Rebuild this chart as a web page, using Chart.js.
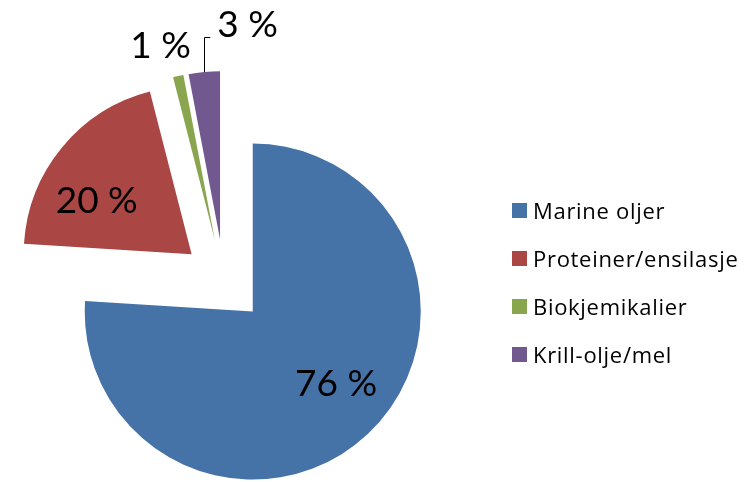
<!DOCTYPE html>
<html>
<head>
<meta charset="utf-8">
<script src="https://cdn.jsdelivr.net/npm/chart.js@4"></script>
<style>
  html, body { margin: 0; padding: 0; background: #fff; }
  #wrap { position: relative; width: 756px; height: 482px; }
  #pie { position: absolute; left: 0; top: 0; }
  #legend { position: absolute; left: 512px; top: 186px; font-family: "Open Sans", sans-serif; font-size: 22px; letter-spacing: 0.7px; color: #000; }
  .row { height: 48px; display: flex; align-items: center; }
  .box { width: 15px; height: 15px; margin-right: 6px; }
</style>
</head>
<body>
<div id="wrap">
  <canvas id="pie" width="756" height="482"></canvas>
  <div id="legend"></div>
</div>
<script>
// data
const categories = ['Marine oljer', 'Proteiner/ensilasje', 'Biokjemikalier', 'Krill-olje/mel'];
const shares = [76, 20, 1, 3];
const colors = ['#4572A7', '#AA4643', '#89A54E', '#71588F'];

const EXPLODE = 42;

// every slice pulled out from the centre by the same distance
const explodeAll = {
  id: 'explodeAll',
  beforeDatasetDraw(chart, args) {
    const ctx = chart.ctx;
    args.meta.data.forEach(arc => {
      const mid = (arc.startAngle + arc.endAngle) / 2;
      ctx.save();
      ctx.translate(Math.cos(mid) * EXPLODE, Math.sin(mid) * EXPLODE);
      arc.draw(ctx);
      ctx.restore();
    });
    return false;
  }
};

// label placement: fraction of radius (or extra px outside), and a small angle shift
const labelPos = [
  {inside: true, r: 0.655, rot: -6},
  {inside: true, r: 0.65, rot: -10},
  {inside: false, r: 34, rot: -3},
  {inside: false, r: 49, rot: 12.7, leader: true}
];

const pctLabels = {
  id: 'pctLabels',
  afterDatasetsDraw(chart) {
    const ctx = chart.ctx;
    const meta = chart.getDatasetMeta(0);
    ctx.save();
    ctx.font = '37px Lato, sans-serif';
    ctx.fillStyle = '#000';
    ctx.strokeStyle = '#000';
    ctx.textAlign = 'center';
    ctx.textBaseline = 'middle';
    meta.data.forEach((arc, i) => {
      const p = arc.getProps(['x', 'y', 'startAngle', 'endAngle', 'outerRadius']);
      const mid = (p.startAngle + p.endAngle) / 2;
      const cx = p.x + Math.cos(mid) * EXPLODE;
      const cy = p.y + Math.sin(mid) * EXPLODE;
      const lp = labelPos[i];
      const a = mid + lp.rot * Math.PI / 180;
      const r = lp.inside ? p.outerRadius * lp.r : p.outerRadius + lp.r;
      const tx = cx + Math.cos(a) * r;
      const ty = cy + Math.sin(a) * r;
      const txt = shares[i] + ' %';
      ctx.fillText(txt, tx, ty + 1);
      if (lp.leader) {
        const ox = cx + Math.cos(mid) * p.outerRadius;
        const oy = cy + Math.sin(mid) * p.outerRadius;
        const w = ctx.measureText(txt).width;
        const ly = Math.round(ty + 13) + 0.5;
        ctx.lineWidth = 1;
        ctx.beginPath();
        ctx.moveTo(Math.round(ox) + 0.5, oy);
        ctx.lineTo(Math.round(ox) + 0.5, ly);
        ctx.lineTo(tx - w / 2 - 7, ly);
        ctx.stroke();
      }
    });
    ctx.restore();
  }
};

new Chart(document.getElementById('pie'), {
  type: 'pie',
  data: {
    labels: categories,
    datasets: [{
      data: shares,
      backgroundColor: colors,
      borderWidth: 0
    }]
  },
  options: {
    responsive: false,
    animation: false,
    events: [],
    radius: 168,
    layout: { padding: { left: 0, right: 308, top: 80, bottom: 0 } },
    plugins: {
      legend: { display: false },
      tooltip: { enabled: false }
    }
  },
  plugins: [explodeAll, pctLabels]
});

// legend as plain html
const legend = document.getElementById('legend');
categories.forEach((name, i) => {
  const row = document.createElement('div');
  row.className = 'row';
  const box = document.createElement('div');
  box.className = 'box';
  box.style.background = colors[i];
  const label = document.createElement('span');
  label.textContent = name;
  row.appendChild(box);
  row.appendChild(label);
  legend.appendChild(row);
});
</script>
</body>
</html>
